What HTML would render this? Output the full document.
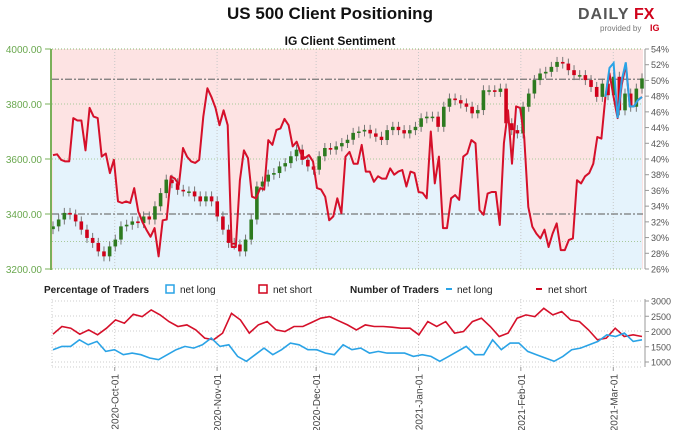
<!DOCTYPE html>
<html><head><meta charset="utf-8">
<style>
body{margin:0;background:#fff;font-family:"Liberation Sans",sans-serif;}
svg{display:block}
</style></head>
<body>
<svg id="c" width="680" height="430" viewBox="0 0 680 430">
<rect width="680" height="430" fill="#fff"/>
<text x="330" y="19" text-anchor="middle" font-size="17" font-weight="bold" fill="#111">US 500 Client Positioning</text>
<g>
<text x="578" y="19" font-size="16" font-weight="bold" fill="#555" letter-spacing="1">DAILY</text>
<text x="634" y="19" font-size="16" font-weight="bold" fill="#d0021b">FX</text>
<text x="600" y="31" font-size="8" fill="#777">provided by</text>
<text x="650" y="31" font-size="9" font-weight="bold" fill="#d0021b">IG</text>
</g>
<text x="340" y="45" text-anchor="middle" font-size="12" font-weight="bold" fill="#111">IG Client Sentiment</text>
<g id="main"></g>
<g id="bottom"></g>
<g font-size="10" fill="#222">
<text x="44" y="293" font-weight="bold">Percentage of Traders</text>
<rect x="166" y="285" width="8" height="8" fill="none" stroke="#2aa3e6" stroke-width="1.5"/>
<text x="180" y="293">net long</text>
<rect x="259" y="285" width="8" height="8" fill="none" stroke="#d0021b" stroke-width="1.5"/>
<text x="273" y="293">net short</text>
<text x="350" y="293" font-weight="bold">Number of Traders</text>
<line x1="446" y1="289" x2="452" y2="289" stroke="#2aa3e6" stroke-width="2"/>
<text x="457" y="293">net long</text>
<line x1="536" y1="289" x2="542" y2="289" stroke="#d0021b" stroke-width="2"/>
<text x="548" y="293">net short</text>
</g>
</svg>
<script>
const closes=[3355,3380,3404,3398,3373,3343,3313,3295,3264,3246,3282,3307,3355,3361,3373,3367,3391,3380,3428,3476,3525,3512,3488,3482,3482,3464,3446,3464,3446,3391,3343,3295,3289,3264,3307,3380,3500,3518,3543,3549,3573,3585,3610,3634,3597,3573,3561,3610,3640,3634,3646,3658,3670,3695,3700,3706,3693,3681,3669,3705,3717,3705,3693,3705,3717,3748,3754,3754,3717,3790,3820,3814,3802,3790,3766,3778,3850,3850,3844,3856,3730,3705,3693,3790,3838,3887,3911,3917,3935,3953,3947,3923,3905,3905,3887,3862,3826,3874,3832,3899,3777,3838,3790,3856,3893];
const sentiment=[40.5,40.6,39.9,39.7,39.7,45.2,44.9,44.9,41.1,46.5,45.4,45.2,40.3,40.7,38.2,39.9,34.6,34.4,34.6,34.4,36.3,33.3,32.0,31.0,30.1,31.2,27.6,32.2,32.3,37.8,37.5,36.7,41.4,40.3,39.7,39.5,39.9,45.4,49.0,47.9,46.5,44.3,46.2,44.3,28.8,28.8,37.3,41.1,40.1,35.2,35.0,36.3,36.1,42.4,41.8,43.7,43.9,45.1,44.3,41.6,42.2,40.7,40.1,40.5,39.7,36.3,36.1,35.2,32.2,32.7,35.0,
33.1,40.3,40.9,39.4,39.4,41.8,38.4,38.4,37.1,37.8,37.5,37.5,38.8,38.0,38.4,38.6,36.5,38.4,38.2,35.8,35.7,35.0,43.5,36.9,40.3,31.2,31.2,35.0,35.4,34.8,40.3,40.7,42.4,42.0,33.5,32.9,35.6,35.8,35.8,31.6,42.0,46.2,39.4,46.7,46.5,42.8,33.9,31.4,30.5,29.9,31.0,28.8,30.5,31.8,28.4,28.4,29.7,29.9,37.3,36.9,37.8,38.2,39.4,42.8,42.6,47.9,50.9,47.9,45.2,49.4,52.0,46.7,46.7,47.5,47.9];
const sentimentTailBlue=[47.9,51.6,52.2,45.2,50.0,52.3,46.7,46.7,47.5,47.9];
const priceTicks=[4000,3800,3600,3400,3200];
const pctTicks=[54,52,50,48,46,44,42,40,38,36,34,32,30,28,26];
const refPrices=[3890,3400];
const gridPrices=[3800,3600,3300];
const countShort=[1913,2163,2109,1913,2054,1891,2109,2380,2272,2565,2489,2707,2543,2326,2163,2217,2054,1783,1728,1946,2598,2380,1946,2217,2326,2054,2000,2163,2163,2300,2435,2489,2350,2217,2054,2217,2163,2163,2140,2109,2109,1891,2326,2163,2326,1946,2000,2326,2435,2163,1837,1946,2435,2543,2489,2761,2543,2652,2380,2326,2054,1728,1783,2109,1837,1891,1837];
const countLong=[1402,1511,1511,1728,1565,1674,1348,1402,1239,1293,1239,1130,1076,1239,1402,1511,1457,1565,1783,1511,1565,1185,1022,1239,1457,1239,1402,1620,1565,1402,1402,1293,1239,1565,1402,1457,1293,1348,1293,1293,1293,1185,1239,1185,1022,1185,1348,1511,1239,1239,1728,1402,1620,1620,1348,1239,1130,1022,1185,1402,1457,1565,1674,1891,1837,1946,1674,1728];
const countTicks=[3000,2500,2000,1500,1000];
const dateLabels=["2020-Oct-01","2020-Nov-01","2020-Dec-01","2021-Jan-01","2021-Feb-01","2021-Mar-01"];
const dateDays=[19,50,80,111,142,170];

const NS="http://www.w3.org/2000/svg";
const X0=52,X1=643,totalDays=179;
const yP=v=>49+(4000-v)*220/800;
const yS=v=>49+(54-v)*220/28;
const yC=v=>301+(3000-v)*61/2000;
const xDay=d=>X0+d*(X1-X0)/totalDays;
const xIdx=(i,n)=>X0+1+i*(X1-X0-2)/(n-1);
function mk(tag,attrs,parent){const e=document.createElementNS(NS,tag);for(const k in attrs)e.setAttribute(k,attrs[k]);parent.appendChild(e);return e;}
const M=document.getElementById('main'),B=document.getElementById('bottom');

const bg=mk('rect',{x:X0,y:49,width:X1-X0,height:220,fill:'#fde3e3'},M);


const n=sentiment.length;
let pts=sentiment.map((v,i)=>xIdx(i,n).toFixed(1)+','+yS(v).toFixed(1));
const area=mk('polygon',{points:X0+1+',269 '+pts.join(' ')+' '+(X1-1)+',269',fill:'#e5f3fc'},M);


dateDays.forEach(d=>{const g=mk('line',{x1:xDay(d),x2:xDay(d),y1:49,y2:269,stroke:'#c8c8c8','stroke-dasharray':'1,2'},M);

});
gridPrices.forEach(p=>{const g=mk('line',{x1:X0,x2:X1,y1:yP(p),y2:yP(p),stroke:'#a8c89a','stroke-dasharray':'1,2'},M);

});
[49,269].forEach(y=>{const g=mk('line',{x1:X0,x2:X1,y1:y,y2:y,stroke:'#8ab870','stroke-dasharray':'1,2'},M);

});
refPrices.forEach(p=>{const g=mk('line',{x1:X0,x2:X1,y1:yP(p),y2:yP(p),stroke:'#777','stroke-width':1.3,'stroke-dasharray':'7,2,2,2'},M);

});
const nc=closes.length;
closes.forEach((c,i)=>{const o=i?closes[i-1]:c-10;const x=xIdx(i,nc);const top=yP(Math.max(o,c)),bot=yP(Math.min(o,c));
const w=mk('line',{x1:x,x2:x,y1:top-5,y2:bot+5,stroke:'#777','stroke-width':1},M);


const r=mk('rect',{x:x-1.8,y:top,width:3.6,height:Math.max(1.5,bot-top),fill:c>=o?'#2d7a1f':'#d0021b'},M);

});
const sl=mk('polyline',{points:pts.join(' '),fill:'none',stroke:'#d5102a','stroke-width':2,'stroke-linejoin':'round'},M);


const off=n-sentimentTailBlue.length;
const bl=mk('polyline',{points:sentimentTailBlue.map((v,i)=>xIdx(off+i,n).toFixed(1)+','+yS(v).toFixed(1)).join(' '),fill:'none',stroke:'#2aa3e6','stroke-width':2},M);


const la=mk('line',{x1:51,x2:51,y1:49,y2:270,stroke:'#7ab05a','stroke-width':2},M);


priceTicks.forEach(p=>{const t=mk('text',{x:42,y:yP(p)+4,'text-anchor':'end','font-size':10,fill:'#6aa84f'},M);t.textContent=p.toFixed(2);


mk('line',{x1:45,x2:51,y1:yP(p),y2:yP(p),stroke:'#7ab05a'},M);});
const ra=mk('line',{x1:645,x2:645,y1:49,y2:269,stroke:'#999'},M);


pctTicks.forEach(p=>{const t=mk('text',{x:651,y:yS(p)+3.5,'font-size':9,fill:'#555'},M);t.textContent=p+'%';


mk('line',{x1:645,x2:649,y1:yS(p),y2:yS(p),stroke:'#999'},M);});

[301,316,331,347,362,367].forEach(y=>{const g=mk('line',{x1:X0,x2:X1,y1:y,y2:y,stroke:'#ccc','stroke-dasharray':'1,2'},B);

});
dateDays.forEach((d,i)=>{const x=xDay(d);const g=mk('line',{x1:x,x2:x,y1:299,y2:368,stroke:'#ccc','stroke-dasharray':'1,2'},B);


mk('line',{x1:x,x2:x,y1:367,y2:371,stroke:'#999'},B);
const t=mk('text',{x:0,y:0,'text-anchor':'end','font-size':10,fill:'#444',transform:'translate('+(x+4)+',374) rotate(-90)'},B);t.textContent=dateLabels[i];

});
mk('line',{x1:X0,x2:X0,y1:299,y2:368,stroke:'#ccc','stroke-dasharray':'1,2'},B);
const ba=mk('line',{x1:645,x2:645,y1:299,y2:367,stroke:'#999'},B);


countTicks.forEach(v=>{const t=mk('text',{x:651,y:yC(v)+3.5,'font-size':9,fill:'#555'},B);t.textContent=v;


mk('line',{x1:645,x2:649,y1:yC(v),y2:yC(v),stroke:'#999'},B);});
const cs=mk('polyline',{points:countShort.map((v,i)=>xIdx(i,countShort.length).toFixed(1)+','+yC(v).toFixed(1)).join(' '),fill:'none',stroke:'#d5102a','stroke-width':1.6},B);


const cl=mk('polyline',{points:countLong.map((v,i)=>xIdx(i,countLong.length).toFixed(1)+','+yC(v).toFixed(1)).join(' '),fill:'none',stroke:'#2aa3e6','stroke-width':1.6},B);


</script>
</body></html>
